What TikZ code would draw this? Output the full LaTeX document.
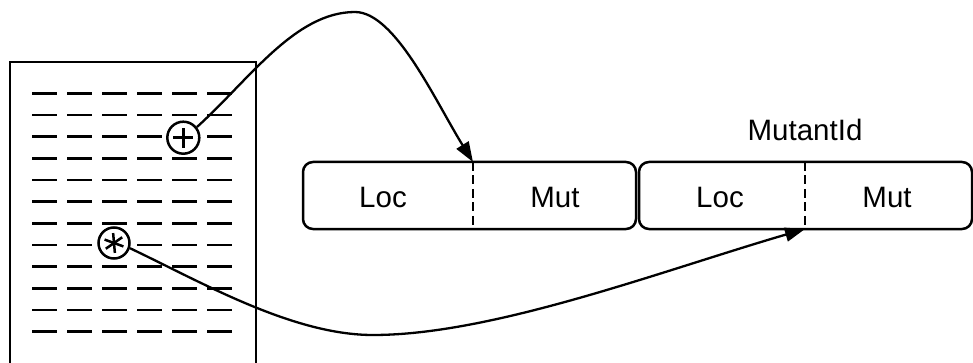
\documentclass[tikz,border=0pt]{standalone}
\usepackage{fontspec}
\setmainfont{Liberation Sans}
\usetikzlibrary{arrows.meta}
\begin{document}
\begin{tikzpicture}[x=1pt,y=-1pt,line width=2.5pt,
  lbl/.style={font=\fontsize{29.5}{34}\selectfont, inner sep=0pt},
  recbox/.style={draw, rounded corners=10pt, minimum width=333pt, minimum height=67pt, inner sep=0pt},
  divider/.style={line width=2.3pt, dash pattern=on 9pt off 4.5pt},
  rowdash/.style={line width=2.7pt, dash pattern=on 25pt off 10pt},
  mark circle/.style={circle, draw, fill=white, minimum size=32pt, inner sep=0pt},
  link/.style={line width=2.3pt, -{Triangle[length=20pt,width=14pt]}}
]
\useasboundingbox (0,0) rectangle (973,363);
% page
\draw (10,380) -- (10,62) -- (256,62) -- (256,380);
\foreach \i in {0,...,11}{
  \draw[rowdash] (32,{93.3+21.67*\i}) -- (232,{93.3+21.67*\i});
}
\node[mark circle] (plus) at (183.3,137.7) {};
\draw ([xshift=-10pt]plus.center) -- ([xshift=10pt]plus.center);
\draw ([yshift=-10pt]plus.center) -- ([yshift=10pt]plus.center);
\node[mark circle, minimum size=31pt] (star) at (114,243) {};
\foreach \a in {35,95,160}{
  \draw ([shift={(\a:10pt)}]star.center) -- ([shift={(\a+180:10pt)}]star.center);
}
% records
\node[recbox] (rec1) at (469.5,195.5) {};
\node[recbox] (rec2) at (805.5,195.5) {};
\coordinate (d1top) at (473,162);
\coordinate (d1bot) at (473,229);
\coordinate (d2top) at (805,162);
\coordinate (d2bot) at (805,229);
\draw[divider] (d1top) -- (d1bot);
\draw[divider] (d2top) -- (d2bot);
\node[lbl] (loc1) at (383,197) {Loc};
\node[lbl] (mut1) at (555,197) {Mut};
\node[lbl] (loc2) at (720,197) {Loc};
\node[lbl] (mut2) at (887,197) {Mut};
\node[lbl] (mid) at (805,130) {MutantId};
% links
\draw[link] (plus.38) .. controls (249,80) and (295,12) .. (355,12)
  .. controls (395,12) and (435,100.5) .. (d1top);
\draw[link] (star.-18) .. controls (203,283) and (293,335) .. (373,335)
  .. controls (493,335) and (661,271) .. (d2bot);
\end{tikzpicture}
\end{document}
